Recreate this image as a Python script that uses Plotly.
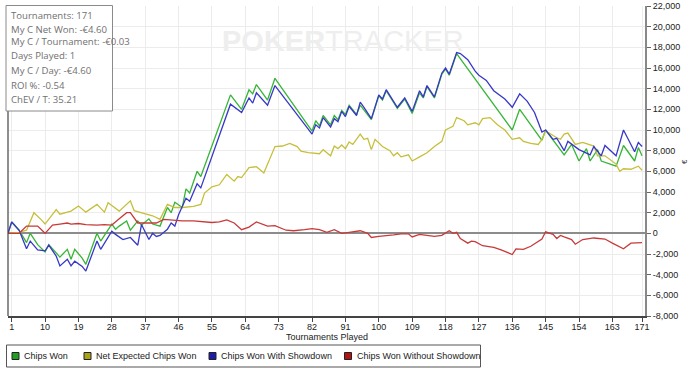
import plotly.graph_objects as go

# ---------------- data ----------------
x_tick_vals = [1, 10, 19, 28, 37, 46, 55, 64, 73, 82, 91, 100, 109, 118, 127, 136, 145, 154, 163, 171]
y_tick_vals = [-8000, -6000, -4000, -2000, 0, 2000, 4000, 6000, 8000, 10000,
               12000, 14000, 16000, 18000, 20000, 22000]
y_tick_text = ["-8,000", "-6,000", "-4,000", "-2,000", "0", "2,000", "4,000", "6,000",
               "8,000", "10,000", "12,000", "14,000", "16,000", "18,000", "20,000", "22,000"]

series_names = ["Chips Won", "Net Expected Chips Won", "Chips Won With Showdown",
                "Chips Won Without Showdown"]

stats_lines = ["Tournaments: 171", "My C Net Won: -€4.60", "My C / Tournament: -€0.03",
               "Days Played: 1", "My C / Day: -€4.60", "ROI %: -0.54", "ChEV / T: 35.21"]

won_x = [0, 1, 3, 5, 6, 8, 10, 11, 14, 16, 17, 18, 20, 21, 24, 25, 28, 29, 30, 32, 33, 35, 36,
         38, 39, 41, 43, 44, 45, 47, 48, 49, 51, 52, 60, 63, 65, 66, 67, 70, 72, 82, 83, 84,
         85, 87, 88, 89, 90, 91, 92, 94, 95, 98, 100, 101, 102, 105, 107, 109, 111, 112, 113,
         115, 117, 118, 119, 121, 136, 138, 144, 145, 150, 152, 154, 156, 157, 159, 160, 164,
         166, 169, 170, 171]
won_y = [0, 1100, 300, -900, 0, -1100, -1800, -1100, -2300, -1550, -2500, -1550, -2400, -3000,
         0, -750, 900, 400, 700, 1200, 300, 1200, 800, 1400, 900, 700, 2500, 2000, 3000, 2500,
         4300, 3900, 6000, 5500, 13400, 12000, 13900, 13500, 14400, 12900, 15000, 9900, 10900,
         10400, 11400, 10500, 11400, 11000, 11900, 11500, 12400, 11500, 12400, 11000, 13300,
         12900, 13800, 12100, 13000, 11600, 13600, 13100, 14200, 13100, 15400, 15900, 15300,
         17400, 10000, 12000, 9000, 10000, 7600, 8600, 7000, 8200, 7000, 8100, 7000, 6500,
         8500, 7000, 8300, 7500]

nev_x = [0, 3, 5, 7, 9, 10, 13, 14, 17, 19, 21, 24, 26, 27, 30, 33, 34, 36, 39, 41, 43, 45, 47,
         50, 52, 53, 55, 57, 59, 61, 62, 63, 65, 67, 69, 72, 74, 76, 78, 79, 81, 84, 85, 86, 87,
         88, 89, 90, 91, 92, 93, 95, 96, 97, 98, 99, 101, 103, 104, 105, 106, 108, 109, 111,
         113, 115, 117, 118, 120, 121, 123, 124, 126, 127, 128, 130, 132, 134, 136, 138, 139,
         141, 143, 144, 145, 148, 149, 150, 151, 153, 155, 158, 159, 161, 164, 165, 166, 168,
         170, 171]
nev_y = [0, 100, 300, 2000, 1300, 900, 2300, 1850, 2150, 2650, 2050, 2800, 2050, 2950, 2150,
         3150, 2200, 2000, 1700, 1350, 2800, 2500, 2500, 2600, 2800, 3900, 4500, 4700, 5700,
         5050, 5500, 5400, 6350, 6450, 5850, 8400, 8450, 8700, 8400, 7950, 7800, 7700, 8100,
         7800, 7500, 8450, 8200, 8550, 8200, 8850, 8600, 9600, 9100, 9200, 8100, 9100, 8400,
         8000, 7500, 7800, 7400, 7600, 7000, 7400, 7800, 8400, 8900, 10000, 10350, 11200,
         10900, 10500, 10700, 10500, 11100, 11200, 10500, 10000, 9100, 9250, 8900, 8700, 8600,
         9100, 9900, 9250, 9100, 9600, 9700, 8600, 8800, 8450, 7500, 7500, 6700, 6000, 6250,
         6200, 6500, 6100]

sd_x = [0, 1, 3, 5, 6, 8, 10, 11, 13, 14, 16, 17, 18, 20, 21, 24, 25, 28, 29, 31, 33, 35, 36,
        38, 39, 40, 41, 43, 44, 45, 46, 48, 49, 51, 52, 60, 63, 65, 66, 67, 70, 72, 82, 83, 84,
        85, 87, 88, 89, 90, 91, 92, 94, 95, 96, 98, 100, 101, 102, 105, 107, 109, 111, 112,
        113, 115, 117, 118, 119, 121, 122, 124, 126, 127, 129, 131, 134, 136, 138, 140, 142,
        143, 144, 145, 147, 148, 150, 151, 154, 157, 158, 160, 161, 164, 166, 169, 170, 171]
sd_y = [0, 1100, 300, -1500, -750, -1600, -1700, -1150, -2200, -3150, -2500, -3150, -2700,
        -3200, -3650, -750, -1550, 200, -100, -600, -400, -1150, 850, -600, 0, -300, -200, 400,
        1000, 700, 1800, 3400, 3100, 4800, 4400, 12500, 11700, 13100, 12600, 13600, 12400,
        14300, 9600, 10500, 10200, 11200, 10300, 11100, 10800, 11800, 11300, 12300, 11400,
        12700, 12200, 11100, 13400, 13000, 13900, 12200, 13100, 11800, 13800, 13200, 14300,
        13200, 15500, 16000, 15400, 17500, 17400, 16800, 15700, 15300, 14800, 13800, 13000,
        12200, 13500, 12800, 11700, 10700, 9800, 10000, 9100, 9200, 8000, 8900, 8100, 7600,
        8400, 7500, 8500, 7500, 10000, 7900, 8800, 8400]

nsd_x = [0, 3, 5, 8, 10, 12, 14, 16, 17, 19, 21, 24, 26, 28, 30, 32, 33, 34, 35, 37, 40, 42,
         44, 47, 50, 53, 55, 57, 59, 61, 63, 65, 67, 70, 72, 75, 77, 80, 82, 84, 86, 88, 90,
         92, 95, 97, 98, 100, 102, 104, 106, 108, 109, 111, 113, 115, 117, 119, 120, 121, 122,
         124, 125, 126, 128, 131, 133, 135, 136, 137, 139, 141, 143, 144, 145, 146, 147, 148,
         149, 150, 152, 153, 155, 158, 161, 163, 166, 168, 171]
nsd_y = [0, 0, 700, 700, 0, 800, 900, 1000, 900, 950, 850, 800, 850, 800, 1400, 2000, 2000,
         1500, 1000, 1000, 1000, 1350, 1300, 1200, 1200, 1100, 1050, 1100, 1300, 1000, 350,
         600, 1100, 700, 750, 300, 250, 350, 450, 350, 100, 350, 0, 100, 250, 0, -400, -300,
         -250, -150, -50, -50, -350, -100, -200, -300, -200, 250, 0, 100, -500, -950, -750,
         -800, -1200, -1350, -1600, -1850, -2050, -1500, -1550, -1250, -800, -550, 150, 0,
         -100, -500, -200, -350, -600, -1050, -600, -450, -550, -950, -1500, -950, -900]

line_colors = ["#36b536", "#c6bf3c", "#3838c8", "#c83a3a"]
legend_fill = ["#1f9f1f", "#a9a21a", "#1c1ca6", "#b01414"]

# ---------------- geometry helpers (pixel -> paper) ----------------
W, H = 700, 380
ML, MR, MT, MB = 8, 55, 6, 64
PW, PH = W - ML - MR, H - MT - MB


def px(x):
    return (x - ML) / PW


def py(y):
    return (H - MB - y) / PH


FONT = "Liberation Sans, Arial, sans-serif"
STAT_FONT = "Open Sans, Noto Sans, sans-serif"

fig = go.Figure()
for xs, ys, name, col in [(won_x, won_y, series_names[0], line_colors[0]),
                          (nev_x, nev_y, series_names[1], line_colors[1]),
                          (sd_x, sd_y, series_names[2], line_colors[2]),
                          (nsd_x, nsd_y, series_names[3], line_colors[3])]:
    fig.add_trace(go.Scatter(x=xs, y=ys, mode="lines", name=name,
                             line=dict(color=col, width=1.3), showlegend=False,
                             hoverinfo="skip"))

shapes = []
annotations = []

# left border line
shapes.append(dict(type="line", xref="paper", yref="paper", x0=0, x1=0, y0=0, y1=1,
                   line=dict(color="#444444", width=1.2)))

# stats box
shapes.append(dict(type="rect", xref="paper", yref="paper", x0=px(6), x1=px(112.5),
                   y0=py(111), y1=py(5.5), fillcolor="white",
                   line=dict(color="#8a8a8a", width=1), layer="above"))
line_y = [15, 29, 42, 56, 70, 85, 99]
for t, yy in zip(stats_lines, line_y):
    annotations.append(dict(text=t, xref="paper", yref="paper", x=px(9), y=py(yy),
                            xanchor="left", yanchor="middle", showarrow=False,
                            font=dict(family=STAT_FONT, size=9.6, color="#707070")))

# watermark
annotations.append(dict(text="<b>POKER</b>TRACKER", xref="paper", yref="paper",
                        x=px(220), y=py(41), xanchor="left", yanchor="middle",
                        showarrow=False,
                        font=dict(family=FONT, size=29, color="#eeeeee")))

# x axis title
annotations.append(dict(text="Tournaments Played", xref="paper", yref="paper", x=0.5,
                        y=py(337), xanchor="center", yanchor="middle", showarrow=False,
                        font=dict(family=FONT, size=9, color="#222222")))
# y axis title
annotations.append(dict(text="€", xref="paper", yref="paper", x=px(685), y=py(162),
                        xanchor="center", yanchor="middle", showarrow=False,
                        textangle=-90, font=dict(family=FONT, size=8, color="#333333")))

# custom legend
shapes.append(dict(type="rect", xref="paper", yref="paper", x0=px(6.5), x1=px(480.5),
                   y0=py(367), y1=py(345), fillcolor="white",
                   line=dict(color="#555555", width=1)))
sq_x = [15.5, 87.5, 212.5, 348]
txt_x = [22, 94, 218.5, 355]
for i in range(4):
    shapes.append(dict(type="rect", xref="paper", yref="paper", x0=px(sq_x[i] - 3.5),
                       x1=px(sq_x[i] + 3.5), y0=py(359.5), y1=py(352.5),
                       fillcolor=legend_fill[i], line=dict(color="#222222", width=1)))
    annotations.append(dict(text=series_names[i], xref="paper", yref="paper", x=px(txt_x[i]),
                            y=py(356), xanchor="left", yanchor="middle", showarrow=False,
                            font=dict(family=FONT, size=9, color="#222222")))

fig.update_layout(
    template="none",
    width=W, height=H,
    margin=dict(l=ML, r=MR, t=MT, b=MB, pad=0, autoexpand=False),
    paper_bgcolor="white", plot_bgcolor="white",
    showlegend=False,
    shapes=shapes, annotations=annotations,
    xaxis=dict(range=[0, 171.8], tickmode="array", tickvals=x_tick_vals,
               ticks="outside", ticklen=4, tickcolor="#444444", automargin=False,
               ticklabelstandoff=-3,
               showgrid=True, gridcolor="#ececec", gridwidth=1,
               showline=True, linecolor="#444444", linewidth=1.5,
               zeroline=False,
               tickfont=dict(family=FONT, size=9, color="#222222")),
    yaxis=dict(range=[-8000, 22000], side="right", tickmode="array",
               tickvals=y_tick_vals, ticktext=y_tick_text, automargin=False,
               ticks="outside", ticklen=4, tickcolor="#666666",
               showgrid=True, gridcolor="#ececec", gridwidth=1,
               showline=True, linecolor="#888888", linewidth=2,
               zeroline=True, zerolinecolor="#8c8c8c", zerolinewidth=2,
               tickfont=dict(family=FONT, size=9, color="#222222")),
)

fig.write_html("out.html", config={"displayModeBar": False},
               post_script="document.body.style.margin='0px';")
